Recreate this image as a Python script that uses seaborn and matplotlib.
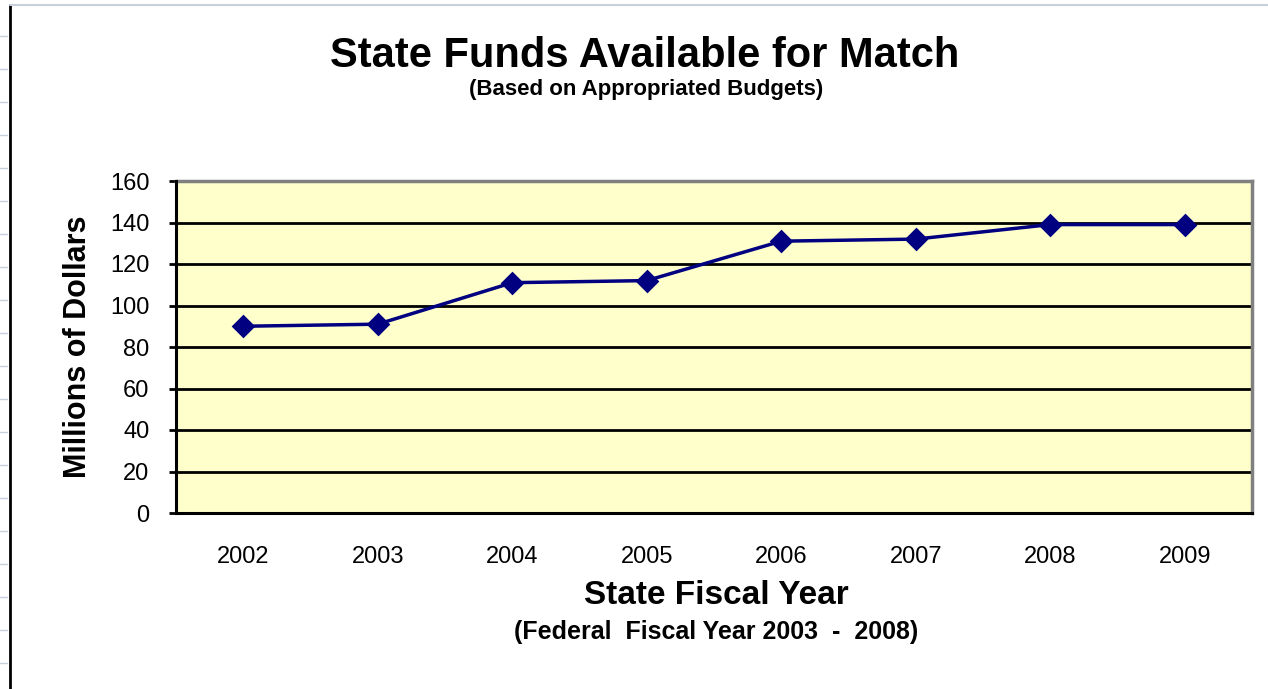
#!/usr/bin/env python3

import numpy as np
import pandas as pd
import seaborn as sns
import matplotlib.pyplot as plt
from matplotlib.lines import Line2D

years = ["2002", "2003", "2004", "2005", "2006", "2007", "2008", "2009"]
funds = [90, 91, 111, 112, 131, 132, 139, 139]
y_ticks = [0, 20, 40, 60, 80, 100, 120, 140, 160]


def set_figure_style():
    sns.set_style("white", rc={"text.color": "black",
                               "axes.labelcolor": "black",
                               "xtick.color": "black",
                               "ytick.color": "black"})
    plt.rcParams["font.family"] = ["Liberation Sans", "DejaVu Sans"]
    plt.rc("font", size=14)


def main():
    set_figure_style()
    df = pd.DataFrame({"year": years, "funds": funds})

    fig = plt.figure(figsize=(12.68, 6.89), dpi=100)
    ax = fig.add_axes([176 / 1268, 1 - 513 / 689, 1076 / 1268, 332 / 689])
    ax.set_facecolor("#FFFFCC")

    # horizontal gridlines
    for v in y_ticks[1:-1]:
        ax.axhline(v, color="black", lw=2, zorder=1)

    sns.pointplot(data=df, x="year", y="funds", color="#000080",
                  markers="D", linestyles="-", markersize=10, linewidth=2.5,
                  ax=ax, zorder=3)

    ax.set_xlim(-0.5, len(years) - 0.5)
    ax.set_ylim(0, 160)
    ax.set_yticks(y_ticks)
    ax.set_yticklabels([str(v) for v in y_ticks], fontsize=17)
    ax.set_xticks(range(len(years)))
    ax.set_xticklabels(years, fontsize=17)
    ax.set_xticks(np.arange(-0.5, len(years)), minor=True)
    ax.tick_params(axis="x", which="major", length=0, pad=24)
    ax.tick_params(axis="x", which="minor", length=5, width=2, color="black",
                   direction="out")
    ax.tick_params(axis="y", length=5, width=2, color="black", pad=14,
                   direction="out", left=True)
    ax.set_xlabel("")
    ax.set_ylabel("Millions of Dollars", fontsize=22, fontweight="bold",
                  labelpad=12)

    for side in ["left", "bottom"]:
        ax.spines[side].set_color("black")
        ax.spines[side].set_linewidth(2.2)
        ax.spines[side].set_zorder(4)
    for side in ["top", "right"]:
        ax.spines[side].set_visible(True)
        ax.spines[side].set_color("#808080")
        ax.spines[side].set_linewidth(2.5)

    fig.text(645 / 1268, 1 - 56 / 689, "State Funds Available for Match",
             ha="center", va="center", fontsize=30, fontweight="bold")
    fig.text(646 / 1268, 1 - 89 / 689, "(Based on Appropriated Budgets)",
             ha="center", va="center", fontsize=16, fontweight="bold")
    fig.text(716 / 1268, 1 - 596 / 689, "State Fiscal Year",
             ha="center", va="center", fontsize=24, fontweight="bold")
    fig.text(716 / 1268, 1 - 632 / 689, "(Federal  Fiscal Year 2003  -  2008)",
             ha="center", va="center", fontsize=18, fontweight="bold")

    # chart frame edges
    fig.add_artist(Line2D([9.5 / 1268, 9.5 / 1268], [0, 1 - 5 / 689],
                          transform=fig.transFigure, color="black", lw=2))
    fig.add_artist(Line2D([9.5 / 1268, 1], [1 - 5 / 689, 1 - 5 / 689],
                          transform=fig.transFigure, color="#C8D0DC", lw=1.5))
    for yy in range(36, 689, 33):
        fig.add_artist(Line2D([0, 7 / 1268], [1 - yy / 689, 1 - yy / 689],
                              transform=fig.transFigure, color="#C8D0DC",
                              lw=1))

    fig.savefig("out.png", dpi=100)
    plt.close()


if __name__ == '__main__':
    main()
